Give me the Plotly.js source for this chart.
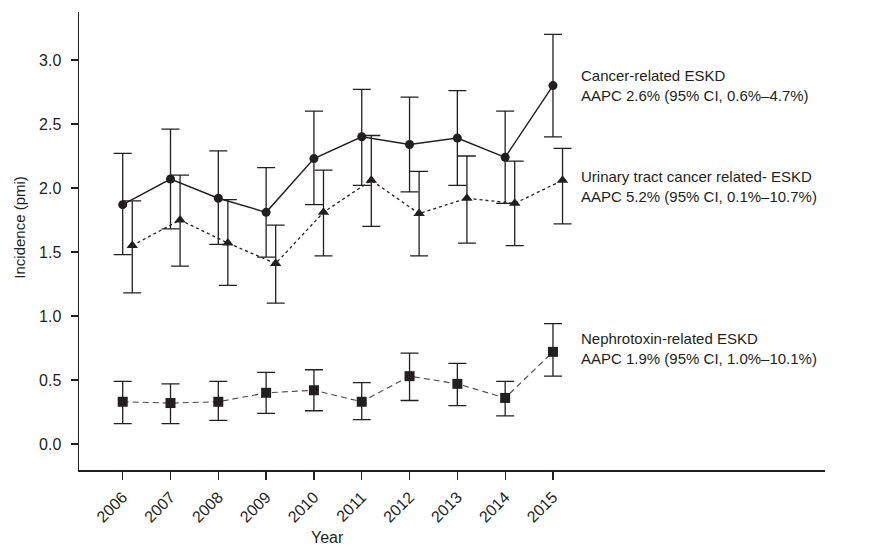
<!DOCTYPE html>
<html>
<head>
<meta charset="utf-8">
<script src="https://cdn.plot.ly/plotly-3.0.1.min.js"></script>
<style>html,body{margin:0;padding:0;background:#fff;}#chart{width:873px;height:548px;}</style>
</head>
<body>
<div id="chart"></div>
<script>
const years = [2006, 2007, 2008, 2009, 2010, 2011, 2012, 2013, 2014, 2015];
const yearLabels = ["2006","2007","2008","2009","2010","2011","2012","2013","2014","2015"];

const cancerVal = [1.87, 2.07, 1.92, 1.81, 2.23, 2.40, 2.34, 2.39, 2.24, 2.80];
const cancerHi  = [2.27, 2.46, 2.29, 2.16, 2.60, 2.77, 2.71, 2.76, 2.60, 3.20];
const cancerLo  = [1.48, 1.68, 1.56, 1.46, 1.87, 2.02, 1.97, 2.02, 1.88, 2.40];

const urinaryVal = [1.55, 1.75, 1.57, 1.41, 1.81, 2.06, 1.80, 1.92, 1.88, 2.06];
const urinaryHi  = [1.90, 2.10, 1.91, 1.71, 2.14, 2.41, 2.13, 2.25, 2.21, 2.31];
const urinaryLo  = [1.18, 1.39, 1.24, 1.10, 1.47, 1.70, 1.47, 1.57, 1.55, 1.72];

const nephroVal = [0.33, 0.32, 0.33, 0.40, 0.42, 0.33, 0.53, 0.47, 0.36, 0.72];
const nephroHi  = [0.49, 0.47, 0.49, 0.56, 0.58, 0.48, 0.71, 0.63, 0.49, 0.94];
const nephroLo  = [0.16, 0.16, 0.185, 0.24, 0.26, 0.19, 0.34, 0.30, 0.22, 0.53];

const labels = [
  {text: "Cancer-related ESKD<br>AAPC 2.6% (95% CI, 0.6%–4.7%)", y: 2.80},
  {text: "Urinary tract cancer related- ESKD<br>AAPC 5.2% (95% CI, 0.1%–10.7%)", y: 2.015},
  {text: "Nephrotoxin-related ESKD<br>AAPC 1.9% (95% CI, 1.0%–10.1%)", y: 0.75}
];

const ink = "#231f20";
const urinaryX = years.map(v => v + 0.2);
function err(val, hi, lo) {
  return {type: "data", symmetric: false,
    array: hi.map((h, i) => h - val[i]),
    arrayminus: lo.map((l, i) => val[i] - l),
    color: ink, thickness: 1.3, width: 9};
}

const traces = [
  {x: years, y: nephroVal, mode: "lines+markers", type: "scatter",
   line: {color: "#4a4a4a", width: 1.1, dash: "6px,4px"},
   marker: {symbol: "square", size: 10, color: ink},
   error_y: err(nephroVal, nephroHi, nephroLo), cliponaxis: false},
  {x: urinaryX, y: urinaryVal, mode: "lines+markers", type: "scatter",
   line: {color: ink, width: 1.3, dash: "3px,3px"},
   marker: {symbol: "triangle-up", size: 10, color: ink},
   error_y: err(urinaryVal, urinaryHi, urinaryLo), cliponaxis: false},
  {x: years, y: cancerVal, mode: "lines+markers", type: "scatter",
   line: {color: ink, width: 1.4},
   marker: {symbol: "circle", size: 9, color: ink},
   error_y: err(cancerVal, cancerHi, cancerLo), cliponaxis: false}
];

const font = {family: "Liberation Sans, Arial, sans-serif", size: 15, color: ink};
const tickFont = {family: "Liberation Sans, Arial, sans-serif", size: 16, color: ink};

const annotations = labels.map(l => ({
  x: 2015.55, y: l.y, xref: "x", yref: "y", text: l.text, showarrow: false,
  xanchor: "left", yanchor: "middle", align: "left", font: font
}));
annotations.push({x: 2010.29, y: 0, xref: "x", yref: "paper", yshift: -67,
  text: "Year", showarrow: false, xanchor: "center", yanchor: "middle", font: tickFont});
annotations.push({x: 0, y: 1.69, xref: "paper", yref: "y", xshift: -59,
  text: "Incidence (pmi)", textangle: -90, showarrow: false,
  xanchor: "center", yanchor: "middle", font: font});

const layout = {
  width: 873, height: 548,
  margin: {l: 79, r: 48, t: 12, b: 78},
  paper_bgcolor: "#fff", plot_bgcolor: "#fff",
  showlegend: false,
  font: font,
  xaxis: {range: [2005.086, 2020.69], tickvals: years, ticktext: yearLabels,
    tickangle: -45, ticks: "outside", ticklen: 8, tickwidth: 1.3, tickcolor: ink,
    showline: true, linecolor: ink, linewidth: 1.5, showgrid: false, zeroline: false,
    tickfont: tickFont, ticklabelstandoff: 2},
  yaxis: {range: [-0.203, 3.375], tickvals: [0, 0.5, 1, 1.5, 2, 2.5, 3],
    tickformat: ".1f", ticks: "outside", ticklen: 7, tickwidth: 1.3, tickcolor: ink,
    showline: true, linecolor: ink, linewidth: 1.5, showgrid: false, zeroline: false,
    tickfont: tickFont, ticklabelstandoff: 6},
  annotations: annotations
};

Plotly.newPlot("chart", traces, layout, {displayModeBar: false, staticPlot: true});
</script>
</body>
</html>
